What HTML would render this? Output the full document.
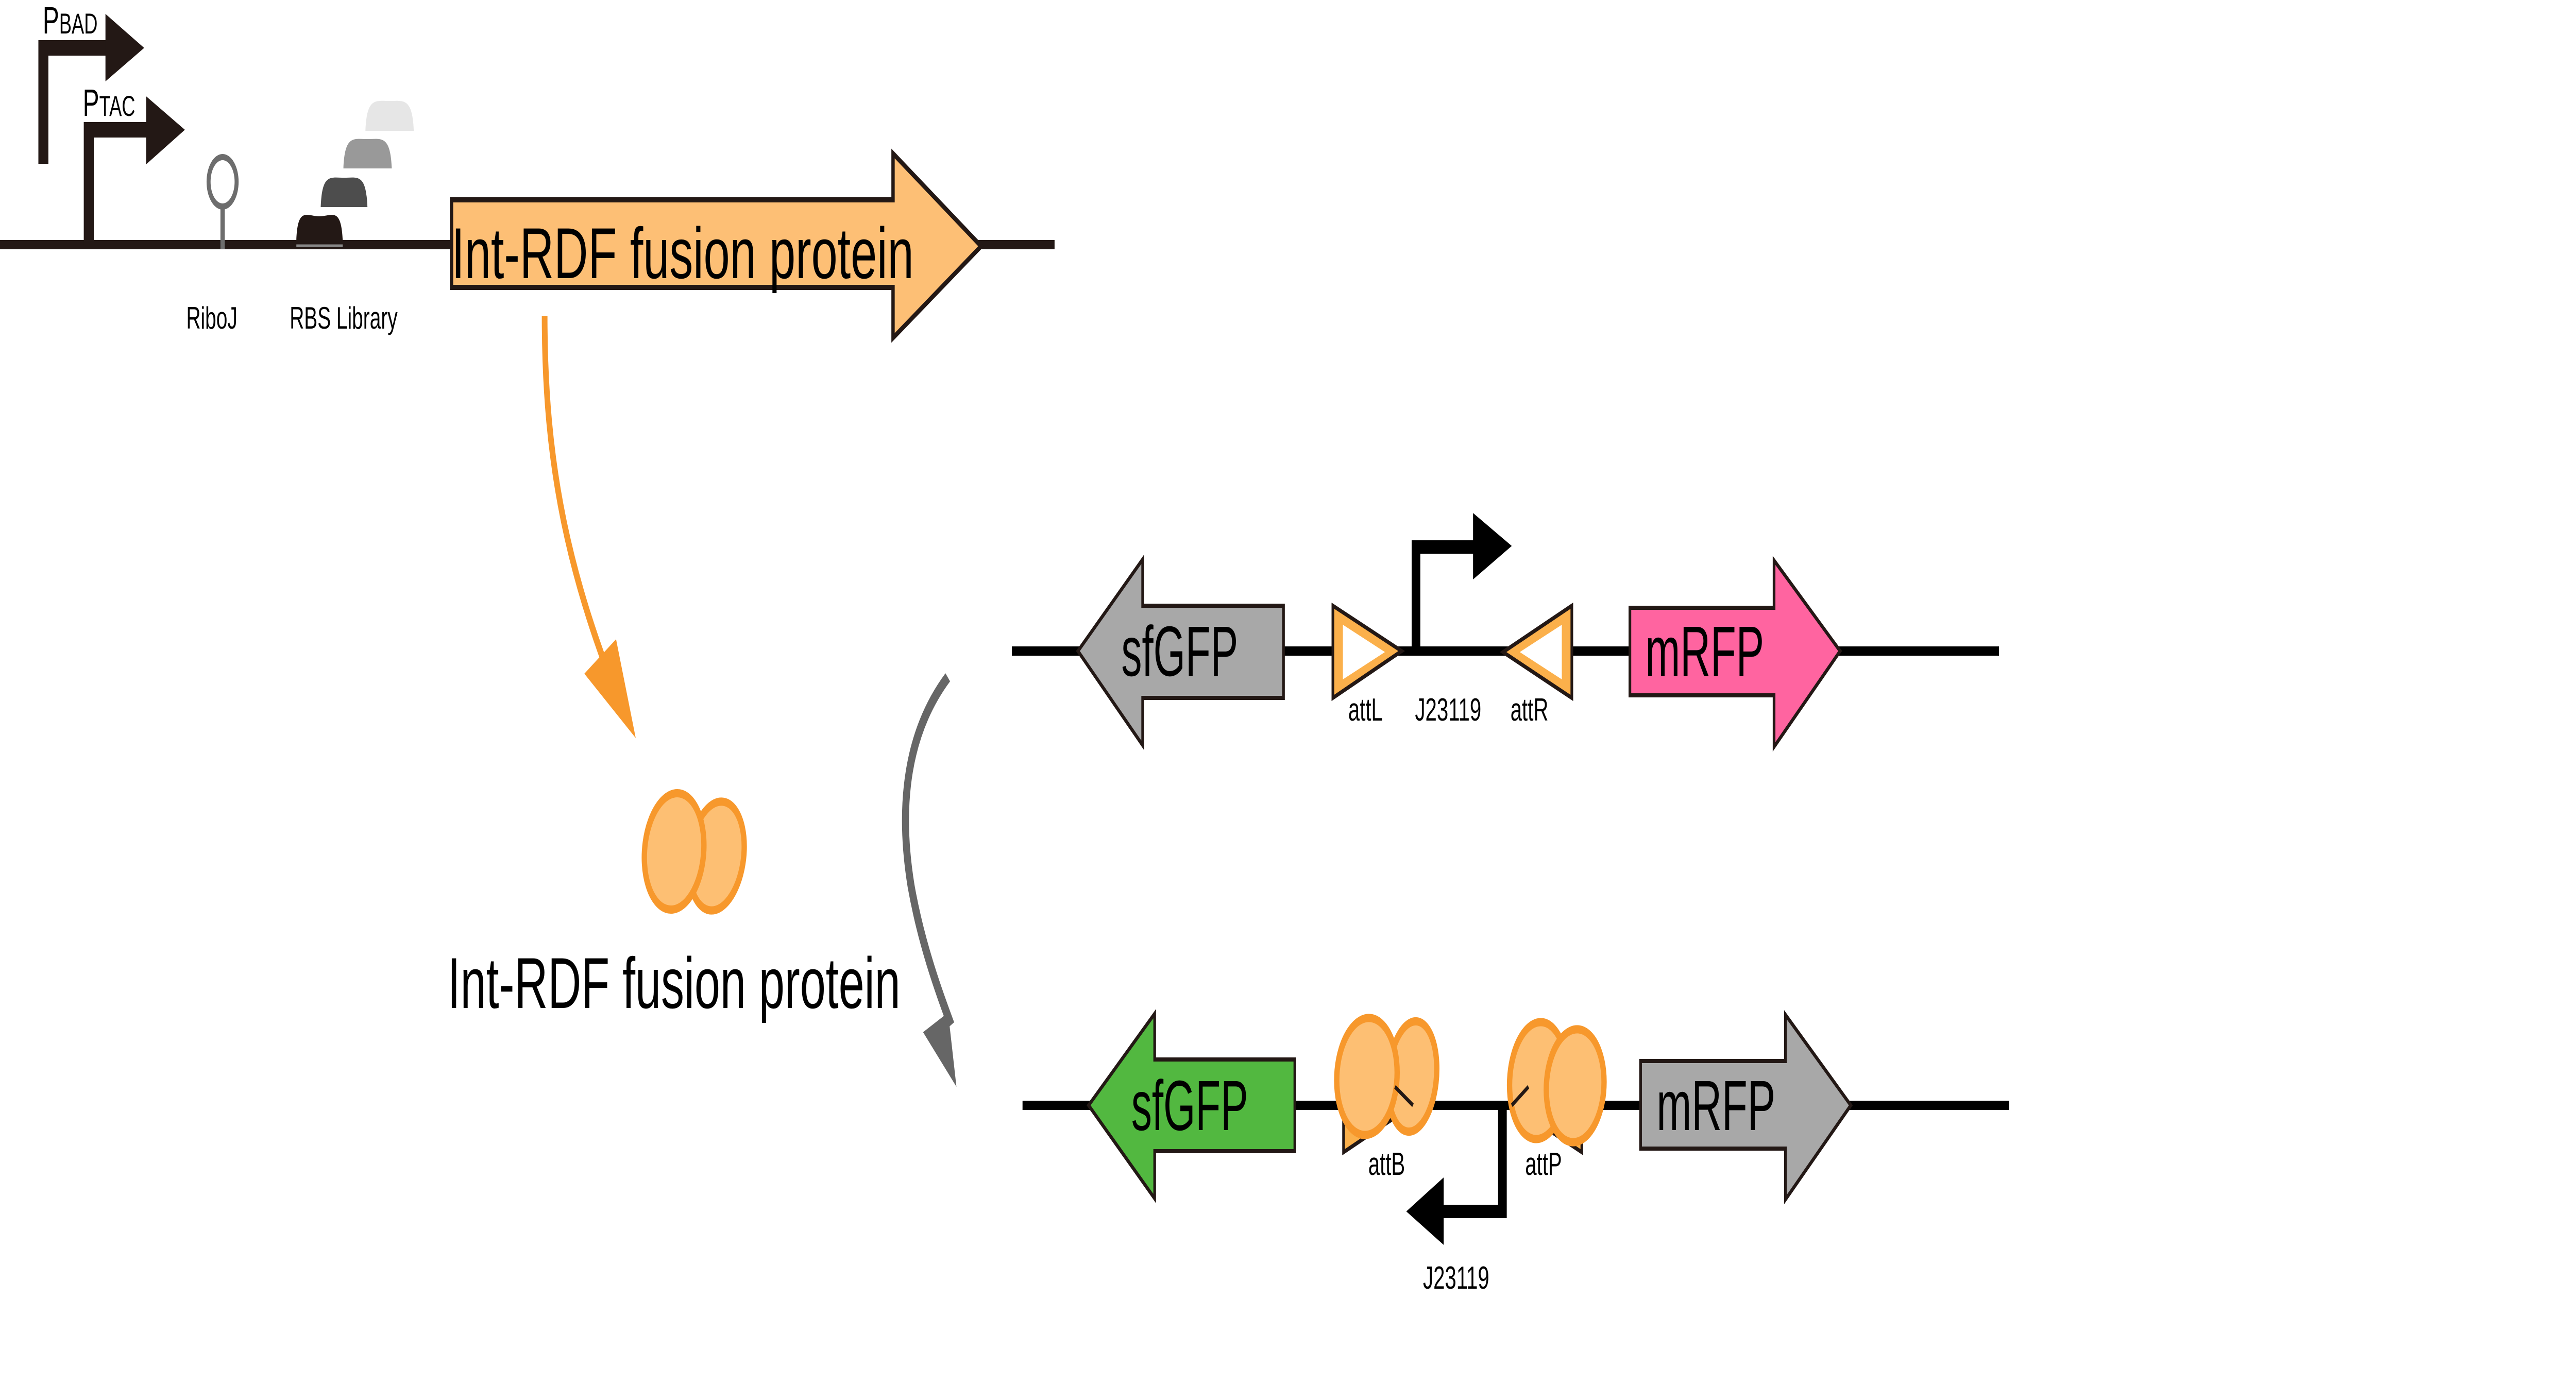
<!DOCTYPE html>
<html><head><meta charset="utf-8"><style>
html,body{margin:0;padding:0;background:#fff;width:100%;height:100%;overflow:hidden}
svg{display:block;position:fixed;left:0;top:0;width:100vw;height:100vh}
</style></head>
<body>
<svg viewBox="0 0 7719 2689" preserveAspectRatio="none" xmlns="http://www.w3.org/2000/svg" font-family="Liberation Sans, Arial, sans-serif">
<rect width="7719" height="2689" fill="#fff"/>
<!-- Top construct -->
<rect x="0" y="466" width="3160" height="18" fill="#231815"/>
<!-- PBAD -->
<path d="M130 318 V93 H330" fill="none" stroke="#231815" stroke-width="30"/>
<polygon points="316,27 432,93 316,158" fill="#231815"/>
<text x="128" y="65" font-size="74" fill="#000">P<tspan font-size="56">BAD</tspan></text>
<!-- PTAC -->
<path d="M266 476 V252 H450" fill="none" stroke="#231815" stroke-width="30"/>
<polygon points="438,187 554,252 438,319" fill="#231815"/>
<text x="248" y="225" font-size="74" fill="#000">P<tspan font-size="56">TAC</tspan></text>
<!-- RiboJ -->
<line x1="667" y1="400" x2="667" y2="483" stroke="#6d6d6d" stroke-width="13"/>
<ellipse cx="667" cy="353" rx="42" ry="48" fill="#fff" stroke="#6d6d6d" stroke-width="12"/>
<!-- RBS -->
<path d="M888 466 C892 400 920 420 957 420 C994 420 1022 400 1027 466 Z" fill="#231815"/>
<line x1="888" y1="477" x2="1027" y2="477" stroke="#888" stroke-width="5"/>
<path d="M961 402 C965 336 990 345 1031 345 C1072 345 1097 336 1101 402 Z" fill="#4d4d4d"/>
<path d="M1029 327 C1033 261 1060 270 1101 270 C1142 270 1170 261 1174 327 Z" fill="#999"/>
<path d="M1095 254 C1099 188 1126 196 1167 196 C1208 196 1236 188 1240 254 Z" fill="#e6e6e6"/>
<text x="558" y="638" font-size="60" fill="#000">RiboJ</text>
<text x="868" y="638" font-size="60" fill="#000">RBS Library</text>
<!-- big orange arrow -->
<polygon points="1353,388 2676,388 2676,298 2940,478 2676,656 2676,558 1353,558" fill="#fdbf75" stroke="#231815" stroke-width="10"/>
<text x="1353" y="540" font-size="140" textLength="1385" lengthAdjust="spacingAndGlyphs" fill="#000">Int-RDF fusion protein</text>
<!-- orange curved arrow -->
<path d="M1632 614 C1632 900 1700 1120 1880 1400" fill="none" stroke="#f7982c" stroke-width="17"/>
<polygon points="1751,1308 1846,1241 1905,1433" fill="#f7982c"/>
<!-- protein middle -->
<ellipse cx="2147" cy="1662" rx="80" ry="108" transform="rotate(18 2147 1662)" fill="#fdbf73" stroke="#f7982c" stroke-width="16"/>
<ellipse cx="2020" cy="1653" rx="88" ry="114" transform="rotate(12 2020 1653)" fill="#fdbf73" stroke="#f7982c" stroke-width="16"/>
<text x="1341" y="1957" font-size="140" textLength="1357" lengthAdjust="spacingAndGlyphs" fill="#000">Int-RDF fusion protein</text>
<!-- gray curved arrow -->
<path d="M2840 1315 C2720 1420 2690 1560 2730 1720 C2760 1830 2810 1920 2850 1990" fill="none" stroke="#666" stroke-width="21"/>
<polygon points="2766,2004 2841,1966 2866,2110" fill="#666"/>
<!-- Row 1 -->
<rect x="3032" y="1255" width="2958" height="18" fill="#000"/>
<polygon points="3230,1264 3424,1086 3424,1176 3846,1176 3846,1355 3424,1355 3424,1447" fill="#a8a8a8" stroke="#231815" stroke-width="8"/>
<text x="3360" y="1312" font-size="138" textLength="350" lengthAdjust="spacingAndGlyphs" fill="#000">sfGFP</text>
<polygon points="3994,1176 3994,1355 4200,1264" fill="#fbb04b" stroke="#231815" stroke-width="8"/>
<polygon points="4024,1213 4024,1319 4150,1266" fill="#fff"/>
<polygon points="4710,1176 4710,1355 4504,1266" fill="#fbb04b" stroke="#231815" stroke-width="8"/>
<polygon points="4680,1213 4680,1319 4554,1266" fill="#fff"/>
<path d="M4243 1264 V1062 H4420" fill="none" stroke="#000" stroke-width="26"/>
<polygon points="4414,996 4530,1060 4414,1125" fill="#000"/>
<polygon points="4884,1180 5316,1180 5316,1088 5514,1264 5316,1450 5316,1350 4884,1350" fill="#ff64a0" stroke="#231815" stroke-width="8"/>
<text x="4930" y="1312" font-size="138" textLength="356" lengthAdjust="spacingAndGlyphs" fill="#000">mRFP</text>
<text x="4040" y="1399" font-size="62" fill="#000">attL</text>
<text x="4240" y="1399" font-size="62" fill="#000">J23119</text>
<text x="4526" y="1399" font-size="62" fill="#000">attR</text>
<!-- Row 2 -->
<rect x="3064" y="2137" width="2956" height="18" fill="#000"/>
<polygon points="3262,2146 3460,1968 3460,2057 3880,2057 3880,2235 3460,2235 3460,2327" fill="#52b840" stroke="#231815" stroke-width="8"/>
<text x="3390" y="2194" font-size="138" textLength="350" lengthAdjust="spacingAndGlyphs" fill="#000">sfGFP</text>
<polygon points="4026,2057 4026,2237 4234,2146" fill="#fbb04b" stroke="#231815" stroke-width="8"/>
<polygon points="4740,2057 4740,2237 4530,2146" fill="#fbb04b" stroke="#231815" stroke-width="8"/>
<path d="M4502 2146 V2352 H4320" fill="none" stroke="#000" stroke-width="26"/>
<polygon points="4326,2286 4214,2352 4326,2417" fill="#000"/>
<ellipse cx="4232" cy="2090" rx="72" ry="108" transform="rotate(10 4232 2090)" fill="#fdbf73" stroke="#f7982c" stroke-width="16"/>
<ellipse cx="4096" cy="2090" rx="90" ry="114" transform="rotate(8 4096 2090)" fill="#fdbf73" stroke="#f7982c" stroke-width="16"/>
<ellipse cx="4610" cy="2098" rx="86" ry="114" transform="rotate(8 4610 2098)" fill="#fdbf73" stroke="#f7982c" stroke-width="16"/>
<ellipse cx="4720" cy="2108" rx="86" ry="110" transform="rotate(8 4720 2108)" fill="#fdbf73" stroke="#f7982c" stroke-width="16"/>
<line x1="4180" y1="2110" x2="4234" y2="2146" stroke="#231815" stroke-width="8"/>
<line x1="4530" y1="2146" x2="4580" y2="2110" stroke="#231815" stroke-width="8"/>
<polygon points="4916,2060 5350,2060 5350,1970 5546,2146 5350,2329 5350,2230 4916,2230" fill="#a8a8a8" stroke="#231815" stroke-width="8"/>
<text x="4964" y="2194" font-size="138" textLength="356" lengthAdjust="spacingAndGlyphs" fill="#000">mRFP</text>
<text x="4100" y="2281" font-size="62" fill="#000">attB</text>
<text x="4570" y="2281" font-size="62" fill="#000">attP</text>
<text x="4264" y="2502" font-size="62" fill="#000">J23119</text>
</svg>
</body></html>
